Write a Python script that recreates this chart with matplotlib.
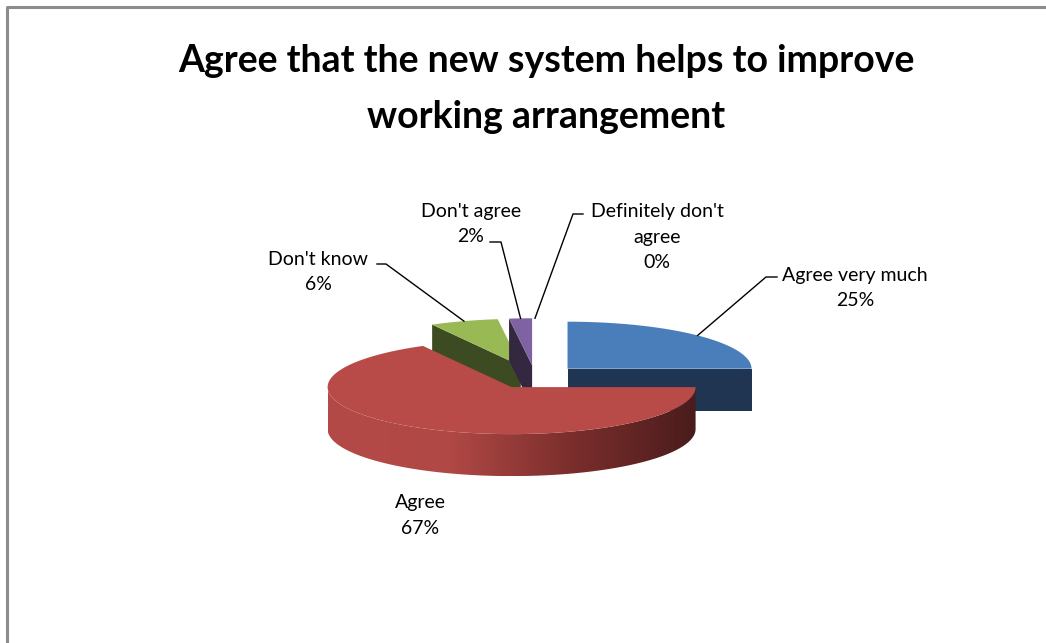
import numpy as np
import matplotlib.pyplot as plt
from matplotlib.patches import Polygon
from matplotlib.colors import LinearSegmentedColormap

# dados do gráfico
labels = ["Agree very much", "Agree", "Don't know", "Don't agree", "Definitely don't\nagree"]
values = [25, 67, 6, 2, 0]
top_colors = ["#4A7EBB", "#B84A47", "#98B954", "#7E62A1", "#7E62A1"]
side_colors = ["#1F3551", "#B24845", "#3D4B22", "#33283F", "#33283F"]
title_lines = ["Agree that the new system helps to improve", "working arrangement"]

# geometria (pixels)
cx, cy = 535, 377
rx, ry = 184, 47
depth = 42
explode = 0.25

# posicao dos rotulos (x centro, baseline da 1a linha) e inicio da linha guia
label_pos = [(855, 281), (420, 508), (318, 265), (471, 217), (657, 217)]
line_step = 25.5
leader_start = [[(777, 277), (766, 277)], None, [(377, 264), (386, 264)],
                [(490, 242), (501, 242)], [(583, 214), (573, 214)]]

plt.rcParams['font.family'] = ['Lato', 'DejaVu Sans']
fig = plt.figure(figsize=(10.46, 6.43), dpi=100)
ax = fig.add_axes([0, 0, 1, 1])
ax.set_xlim(0, 1046)
ax.set_ylim(643, 0)
ax.axis("off")

# moldura
ax.plot([7, 7, 1046], [643, 7, 7], color="#8C8C8C", lw=2.2, solid_capstyle="butt")


def pt(c, th):
    return np.array([c[0] + rx * np.sin(th), c[1] - ry * np.cos(th)])


total = sum(values)
ends = np.cumsum(values) / total * 2 * np.pi
starts = ends - np.array(values) / total * 2 * np.pi
centers = []
for a0, a1 in zip(starts, ends):
    mid = (a0 + a1) / 2
    centers.append((cx + explode * rx * np.sin(mid), cy - explode * ry * np.cos(mid)))


def top_face(i):
    c = centers[i]
    th = np.linspace(starts[i], ends[i], 80)
    pts = [c] + [pt(c, t) for t in th]
    ax.add_patch(Polygon(pts, closed=True, fc=top_colors[i], ec="none", zorder=3))


def radial_face(i, th):
    c = np.array(centers[i])
    p = pt(c, th)
    d = np.array([0, depth])
    ax.add_patch(Polygon([c, p, p + d, c + d], closed=True, fc=side_colors[i], ec="none", zorder=3))


# fatias de tras primeiro
radial_face(2, starts[2])
top_face(2)
radial_face(3, starts[3])
top_face(3)
radial_face(0, ends[0])
top_face(0)

# parede da frente da fatia vermelha com degrade
c = centers[1]
th = np.linspace(max(starts[1], np.pi / 2), min(ends[1], 3 * np.pi / 2), 120)
upper = [pt(c, t) for t in th]
lower = [p + np.array([0, depth]) for p in upper[::-1]]
wall = Polygon(upper + lower, closed=True, fc="none", ec="none", zorder=3)
ax.add_patch(wall)
grad = LinearSegmentedColormap.from_list("g", ["#4A1C1C", "#7A2E2C", "#B04845", "#B44A47"])
xs = np.linspace(0, 1, 256)[None, :]
im = ax.imshow(xs, cmap=grad, extent=(c[0] + rx, c[0] - rx, c[1] + ry + depth, c[1]),
               aspect="auto", zorder=3)
im.set_clip_path(wall)
ax.set_xlim(0, 1046)
ax.set_ylim(643, 0)
top_face(1)

# rotulos
for i, lab in enumerate(labels):
    x, y = label_pos[i]
    linhas = lab.split("\n") + [f"{values[i]}%"]
    for k, s in enumerate(linhas):
        ax.text(x, y + k * line_step, s, ha="center", va="baseline", fontsize=14,
                color="#000000", zorder=5)
    if leader_start[i] is not None:
        mid = (starts[i] + ends[i]) / 2
        rim = pt(centers[i], mid)
        xs_l = [leader_start[i][0][0], leader_start[i][1][0], rim[0]]
        ys_l = [leader_start[i][0][1], leader_start[i][1][1], rim[1]]
        ax.plot(xs_l, ys_l, color="black", lw=1, zorder=4)

for k, s in enumerate(title_lines):
    ax.text(546, 72 + k * 56, s, ha="center", va="baseline", fontsize=27, fontweight="bold")

fig.savefig("out.png", dpi=100)
